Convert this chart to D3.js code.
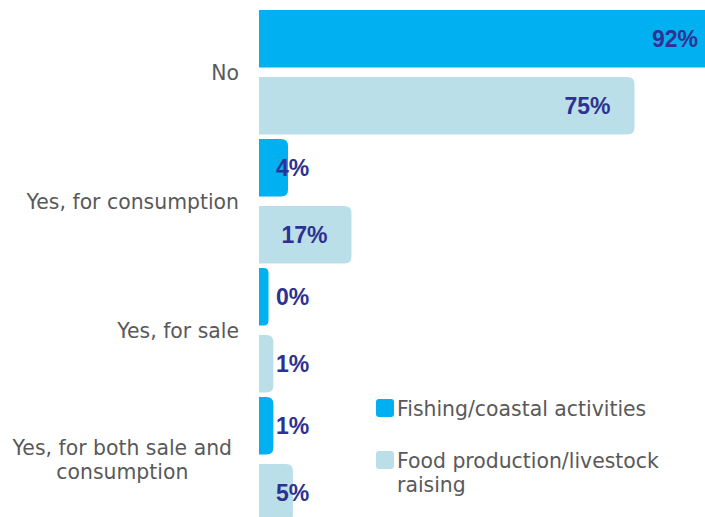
<!DOCTYPE html>
<html>
<head>
<meta charset="utf-8">
<script src="https://cdn.jsdelivr.net/npm/d3@7"></script>
<style>
  html, body { margin: 0; padding: 0; background: #ffffff; overflow: hidden; }
  svg { display: block; }
</style>
</head>
<body>
<svg id="chart" width="705" height="517"></svg>
<script>
const categories = ["No", "Yes, for consumption", "Yes, for sale", "Yes, for both sale and consumption"];
const seriesNames = ["Fishing/coastal activities", "Food production/livestock raising"];
const fishingValues = [92, 4, 0, 1];
const foodValues = [75, 17, 1, 5];
const seriesColors = ["#00b0f0", "#badfe9"];

const W = 705, H = 517;
const svg = d3.select("#chart");
const baseX = 259;

const rows = categories.map((c, i) => ({ cat: c, values: [fishingValues[i], foodValues[i]] }));

const y0 = d3.scaleBand().domain(categories).range([7.75, 523.75]).paddingInner(0.035).paddingOuter(0.0175);
const y1 = d3.scaleBand().domain(seriesNames).range([0, y0.bandwidth()]).paddingInner(0.142).paddingOuter(0);
const x = d3.scaleLinear().domain([0, 100]).range([268.5, 268.5 + 488]);
const color = d3.scaleOrdinal().domain(seriesNames).range(seriesColors);

function rightRounded(x0, y, w, h, r) {
  r = Math.min(r, w / 2, h / 2);
  return `M${x0},${y}H${x0 + w - r}Q${x0 + w},${y} ${x0 + w},${y + r}V${y + h - r}Q${x0 + w},${y + h} ${x0 + w - r},${y + h}H${x0}Z`;
}

const g = svg.append("g");
const groups = g.selectAll("g.grp").data(rows).join("g")
  .attr("class", "grp")
  .attr("transform", d => `translate(0,${y0(d.cat)})`);

const items = groups.selectAll("g.item")
  .data(d => d.values.map((v, j) => ({ series: seriesNames[j], v })))
  .join("g").attr("class", "item");

items.append("path")
  .attr("d", d => rightRounded(baseX, y1(d.series), x(d.v) - baseX, y1.bandwidth(), 7))
  .attr("fill", d => color(d.series));

items.append("text")
  .attr("font-family", "'Liberation Sans', Arial, sans-serif")
  .attr("font-weight", "bold")
  .attr("font-size", 23)
  .attr("fill", "#2e3192")
  .attr("y", d => y1(d.series) + y1.bandwidth() / 2)
  .attr("dy", "0.36em")
  .text(d => d.v + "%")
  .each(function(d) {
    const t = d3.select(this);
    const w = this.getComputedTextLength();
    const barEnd = x(d.v);
    let end = barEnd > W ? W - 7 : barEnd - 24;
    if (end - w < 276) end = 276 + w;
    t.attr("x", end).attr("text-anchor", "end");
  });

// category labels
const labelFont = "'DejaVu Sans', sans-serif";
const catG = g.selectAll("text.cat").data(categories).join("text")
  .attr("class", "cat")
  .attr("font-family", labelFont)
  .attr("font-size", 20.4)
  .attr("fill", "#595959");

catG.each(function(c) {
  const t = d3.select(this);
  const words = c.split(" ");
  const lines = [];
  let cur = [];
  for (const w of words) {
    const test = cur.concat([w]).join(" ");
    t.text(test);
    if (this.getComputedTextLength() > 228 && cur.length) {
      lines.push(cur.join(" "));
      cur = [w];
    } else cur.push(w);
  }
  lines.push(cur.join(" "));
  t.text(null);
  const lh = 24;
  const cy = y0(c) + y0.bandwidth() / 2;
  const top = cy - (lines.length - 1) * lh / 2;
  if (lines.length === 1) {
    t.append("tspan").attr("x", 239).attr("y", top).attr("dy", "0.36em").attr("text-anchor", "end").text(lines[0]);
  } else {
    let maxW = 0;
    lines.forEach(l => {
      const s = t.append("tspan").text(l);
      maxW = Math.max(maxW, s.node().getComputedTextLength());
      s.remove();
    });
    const cx = 232 - maxW / 2;
    lines.forEach((l, i) => {
      t.append("tspan").attr("x", cx).attr("y", top + i * lh).attr("dy", "0.36em").attr("text-anchor", "middle").text(l);
    });
  }
});

// legend
const legendLines = [["Fishing/coastal activities"], ["Food production/livestock", "raising"]];
const legendY = [399, 451];
const leg = g.selectAll("g.leg").data(seriesNames).join("g").attr("class", "leg")
  .attr("transform", (d, i) => `translate(376,${legendY[i]})`);
leg.append("rect").attr("width", 18).attr("height", 18).attr("rx", 3).attr("fill", d => color(d));
leg.append("text")
  .attr("font-family", labelFont)
  .attr("font-size", 20.4)
  .attr("fill", "#595959")
  .each(function(d, i) {
    const t = d3.select(this);
    legendLines[i].forEach((l, k) => {
      t.append("tspan").attr("x", 21).attr("y", 17 + k * 24).text(l);
    });
  });
</script>
</body>
</html>
